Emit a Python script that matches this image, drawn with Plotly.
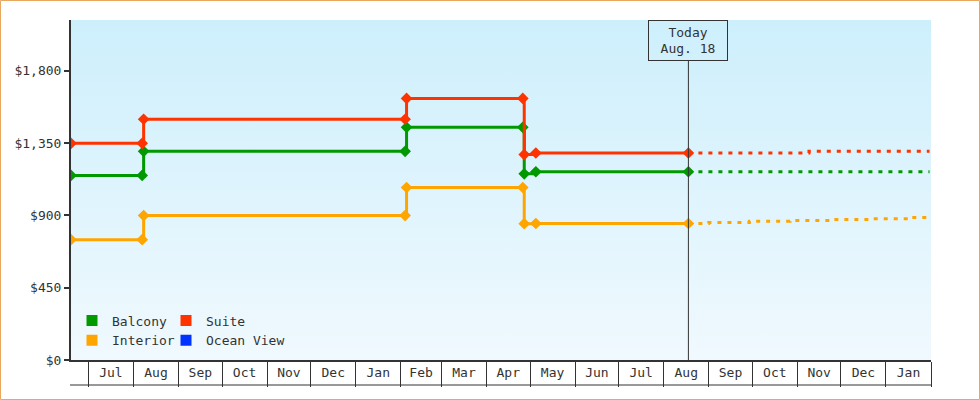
import base64
import plotly.graph_objects as go

# ---------------- data ----------------
hist_dates = ["2022-06-19", "2022-08-07", "2022-08-08", "2023-02-04", "2023-02-05",
              "2023-04-26", "2023-04-27", "2023-05-05", "2023-08-18"]
balcony_hist = [1149, 1149, 1299, 1299, 1449, 1449, 1159, 1172, 1172]
suite_hist = [1349, 1349, 1499, 1499, 1629, 1629, 1279, 1289, 1289]
interior_hist = [749, 749, 899, 899, 1074, 1074, 849, 850, 850]

balcony_proj_dates = ["2023-08-18", "2024-01-31"]
balcony_proj = [1172, 1172]
suite_proj_dates = ["2023-08-18", "2023-11-09", "2024-01-31"]
suite_proj = [1289, 1299, 1299]
interior_proj_dates = ["2023-08-18", "2023-09-01", "2023-09-29", "2023-10-27",
                       "2023-11-24", "2023-12-22", "2024-01-19", "2024-01-31"]
interior_proj = [850, 856, 864, 869, 875, 879, 888, 888]

series_names = ["Balcony", "Interior", "Suite", "Ocean View"]
series_colors = {"Balcony": "#009900", "Suite": "#ff3300",
                 "Interior": "#ffa500", "Ocean View": "#0033ff"}

y_tickvals = [0, 450, 900, 1350, 1800]
y_ticktext = ["$0", "$450", "$900", "$1,350", "$1,800"]
y_max = 2117
x_range = ["2022-06-19", "2024-02-01"]
today = "2023-08-18"
today_label = "Today<br>Aug. 18"

# ---------------- figure ----------------
FONT = "DejaVu Sans Mono"
W, H = 980, 400
ML, MR, MT, MB = 71, 49, 20, 40
PW, PH = W - ML - MR, H - MT - MB

fig = go.Figure()

hist = {"Balcony": balcony_hist, "Suite": suite_hist, "Interior": interior_hist}
proj = {"Balcony": (balcony_proj_dates, balcony_proj),
        "Suite": (suite_proj_dates, suite_proj),
        "Interior": (interior_proj_dates, interior_proj)}

for name in ["Interior", "Balcony", "Suite"]:
    c = series_colors[name]
    pd_, pv = proj[name]
    fig.add_trace(go.Scatter(x=pd_, y=pv, mode="lines", line_shape="hv",
                             line=dict(color=c, width=3, dash="4px,6px"),
                             showlegend=False, legendgroup=name, hoverinfo="skip"))
    fig.add_trace(go.Scatter(x=hist_dates, y=hist[name], mode="lines+markers",
                             line_shape="hv", line=dict(color=c, width=3),
                             marker=dict(symbol="diamond", size=9, color=c),
                             showlegend=False, legendgroup=name, name=name))

# legend entries (square swatches), two columns via two legends
for name in series_names:
    lg = "legend" if name in ("Balcony", "Interior") else "legend2"
    fig.add_trace(go.Scatter(x=[None], y=[None], mode="markers", name=name,
                             marker=dict(symbol="square", size=11,
                                         color=series_colors[name]),
                             legendgroup=name, legend=lg, showlegend=True))

# gradient plot background via svg image
svg = ('<svg xmlns="http://www.w3.org/2000/svg" width="100" height="100" '
       'preserveAspectRatio="none"><defs><linearGradient id="g" x1="0" y1="0" '
       'x2="0" y2="1"><stop offset="0" stop-color="#cdeffc"/>'
       '<stop offset="1" stop-color="#f0f9fe"/></linearGradient></defs>'
       '<rect width="100" height="100" fill="url(#g)"/></svg>')
src = "data:image/svg+xml;base64," + base64.b64encode(svg.encode()).decode()

legend_common = dict(orientation="v", xanchor="left", yanchor="top",
                     bgcolor="rgba(0,0,0,0)", borderwidth=0,
                     font=dict(family=FONT, size=13, color="#333333"),
                     itemclick=False, itemdoubleclick=False, tracegroupgap=0)

fig.update_layout(
    width=W, height=H,
    margin=dict(l=ML, r=MR, t=MT, b=MB, pad=0),
    paper_bgcolor="white", plot_bgcolor="white",
    font=dict(family=FONT, size=13, color="#333333"),
    images=[dict(source=src, xref="paper", yref="paper", x=0, y=1,
                 sizex=1, sizey=1, xanchor="left", yanchor="top",
                 sizing="stretch", layer="below")],
    legend=dict(x=(72 - ML) / PW, y=(360 - 305.5) / PH, **legend_common),
    legend2=dict(x=(166 - ML) / PW, y=(360 - 305.5) / PH, **legend_common),
    xaxis=dict(type="date", range=x_range, showgrid=False, zeroline=False,
               showline=True, linecolor="#333333", linewidth=2,
               dtick="M1", tick0="2022-07-01", tickformat="%b",
               ticklabelmode="period", ticks="outside", ticklen=25,
               tickwidth=1, tickcolor="#333333", ticklabelstandoff=-26,
               tickfont=dict(family=FONT, size=13, color="#333333")),
    yaxis=dict(range=[0, y_max], showgrid=False, zeroline=False,
               showline=True, linecolor="#333333", linewidth=2,
               tickvals=y_tickvals, ticktext=y_ticktext,
               ticks="outside", ticklen=5, tickwidth=2, tickcolor="#333333",
               tickfont=dict(family=FONT, size=13, color="#333333")),
    annotations=[dict(x=today, y=1, xref="x", yref="paper", text=today_label,
                      showarrow=False, xanchor="center", yanchor="top",
                      width=76, height=37, borderpad=1, borderwidth=1,
                      bordercolor="#333333", bgcolor="rgba(0,0,0,0)",
                      font=dict(family=FONT, size=13, color="#333333"))],
    shapes=[
        dict(type="line", xref="x", yref="paper", x0=today, x1=today,
             y0=0, y1=(360 - 60.7) / PH, line=dict(color="#333333", width=1)),
        dict(type="line", xref="paper", yref="paper", x0=-1 / PW, x1=1,
             y0=-25 / PH, y1=-25 / PH, line=dict(color="#333333", width=1)),
        dict(type="rect", xref="paper", yref="paper",
             x0=-(ML - 0.5) / PW, x1=1 + (MR - 0.5) / PW,
             y0=-(MB - 0.5) / PH, y1=1 + (MT - 0.5) / PH,
             line=dict(color="#e8a860", width=1), layer="below"),
    ],
    showlegend=True,
)

fig.write_html("out.html", config={"displayModeBar": False},
               post_script="document.body.style.margin='0';"
                           "document.body.style.overflow='hidden';")
